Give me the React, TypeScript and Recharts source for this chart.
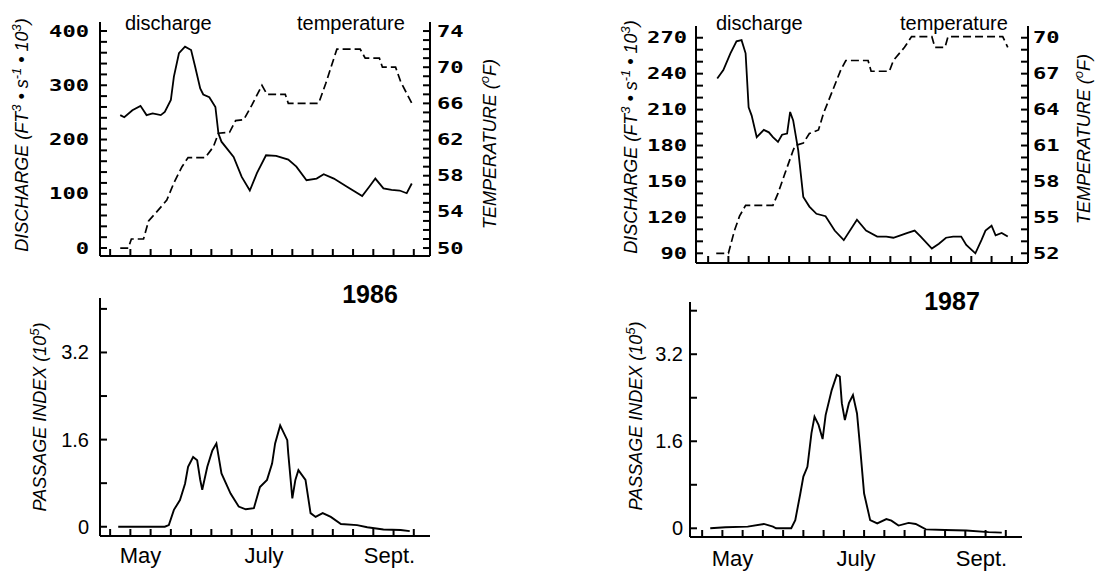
import React from 'react';
import { ComposedChart, Line, XAxis, YAxis, ReferenceLine } from 'recharts';

// day of year on the x axis
const dischargeDays1986 = [125, 127, 131, 135, 138, 141, 145, 147, 150, 151.5, 154, 157, 160, 162, 164.5, 166, 169, 172, 173.5, 175, 181, 185, 189, 192.5, 197, 202, 208, 212, 217, 222, 225.5, 230.5, 237, 244.5, 248, 251, 255, 259, 263, 266.5, 269];
const discharge1986 = [245, 241, 254, 262, 245, 248, 245, 251, 273, 316, 359, 371, 365, 334, 294, 283, 278, 260, 211, 196, 168, 131, 106, 138, 171, 170, 163, 150, 125, 128, 136, 128, 113, 96, 113, 128, 110, 107, 106, 101, 119];

const tempDays1986 = [125, 129, 130.5, 136.5, 139, 143, 148, 151.5, 155.5, 158.5, 167, 171, 173.5, 179, 182, 186, 190, 195, 197.5, 206.5, 208, 223, 226.5, 232, 243.5, 246, 253, 254.5, 261, 263.5, 269.5];
const temp1986 = [50, 50, 51, 51, 53, 54, 55.3, 57.2, 59, 60, 60, 61.2, 62.7, 62.8, 64.1, 64.2, 65.8, 68, 67, 67, 66, 66, 68.2, 72, 72, 71, 71, 70, 70, 68.4, 65.8];

const dischargeDays1987 = [124.5, 127.5, 131, 134, 136.5, 138.5, 140, 141.5, 144, 147.5, 150, 152, 154.5, 156.5, 159, 160.5, 162, 164.5, 167, 170, 173.5, 178, 182.5, 187, 193.5, 198, 203.5, 208, 211.5, 215, 218.5, 222, 225, 230.5, 234, 237.5, 241, 245, 247.5, 252, 255, 257, 260, 262, 265, 268];
const discharge1987 = [236, 243, 257, 267, 268, 257, 212, 205, 187, 193, 191, 187, 183, 189, 190, 208, 201, 176, 137, 129, 123, 121, 109, 101, 118, 109, 104, 104, 103, 105, 107, 109, 104, 94, 98, 103, 104, 104, 97, 90, 101, 109, 113, 105, 107, 104];

const tempDays1987 = [124, 130, 133, 135.5, 138.5, 152, 154.5, 158, 162, 163, 167, 170, 174.5, 177, 181.5, 185.5, 188, 199, 200.5, 209.5, 211.5, 217, 220.5, 230.5, 232, 237, 238.5, 265.5, 268];
const temp1987 = [52, 52, 53.9, 55.1, 56, 56, 57, 58.7, 60.6, 61, 61.2, 62, 62.3, 63.7, 65.6, 67.3, 68.1, 68.1, 67.2, 67.2, 68.1, 69.2, 70.1, 70.1, 69.2, 69.2, 70.1, 70.1, 69.2];

const passageDays1986 = [124, 147, 149, 151.5, 154.5, 157, 158.5, 161, 163, 164.5, 165.5, 168, 170.5, 172.5, 175, 179.5, 183.5, 187, 191, 194, 197.5, 200, 201.5, 204, 207.5, 208, 210, 211.5, 213, 216.5, 219, 221.5, 225, 229, 234, 242, 247, 255, 263.5, 268];
const passage1986 = [0, 0, 0.03, 0.31, 0.49, 0.79, 1.1, 1.28, 1.22, 0.86, 0.68, 1.1, 1.4, 1.53, 0.98, 0.61, 0.37, 0.32, 0.34, 0.73, 0.86, 1.16, 1.53, 1.86, 1.59, 1.34, 0.52, 0.86, 1.04, 0.86, 0.25, 0.18, 0.25, 0.18, 0.05, 0.03, -0.01, -0.05, -0.06, -0.08];

const passageDays1987 = [124, 131.5, 142.5, 150.5, 155, 156.5, 164, 166, 168.5, 170, 172, 174, 175.5, 177.5, 179.5, 181, 184, 186.5, 188, 189, 190.5, 192.5, 194.5, 196.5, 198, 200, 203, 206.5, 211, 213.5, 217, 222, 225.5, 230.5, 240, 250.5, 261.5, 268];
const passage1987 = [0, 0.02, 0.03, 0.08, 0.03, 0, 0, 0.15, 0.64, 0.95, 1.13, 1.75, 2.05, 1.9, 1.64, 2.08, 2.54, 2.82, 2.79, 2.3, 1.99, 2.3, 2.45, 2.11, 1.5, 0.64, 0.15, 0.09, 0.17, 0.14, 0.05, 0.1, 0.08, -0.02, -0.03, -0.04, -0.07, -0.08];

// axis ticks
const dayTicks = [120, 130, 140, 150, 160, 170, 180, 190, 200, 210, 220, 230, 240, 250, 260, 270];
const monthTicks = [135, 196, 258];
const monthNames = ['May', 'July', 'Sept.'];

const dischargeTicks1986 = [0, 20, 40, 60, 80, 100, 120, 140, 160, 180, 200, 220, 240, 260, 280, 300, 320, 340, 360, 380, 400];
const dischargeLabels1986 = [0, 100, 200, 300, 400];
const tempTicks1986 = [50, 51, 52, 53, 54, 55, 56, 57, 58, 59, 60, 61, 62, 63, 64, 65, 66, 67, 68, 69, 70, 71, 72, 73, 74];
const tempLabels1986 = [50, 54, 58, 62, 66, 70, 74];

const dischargeTicks1987 = [90, 100, 110, 120, 130, 140, 150, 160, 170, 180, 190, 200, 210, 220, 230, 240, 250, 260, 270];
const dischargeLabels1987 = [90, 120, 150, 180, 210, 240, 270];
const tempTicks1987 = [52, 53, 54, 55, 56, 57, 58, 59, 60, 61, 62, 63, 64, 65, 66, 67, 68, 69, 70];
const tempLabels1987 = [52, 55, 58, 61, 64, 67, 70];

const passageTicks = [0, 0.8, 1.6, 2.4, 3.2, 4.0];
const passageLabels = [0, 1.6, 3.2];

const zip = (days: number[], vals: number[]) => days.map((d, i) => ({ day: d, v: vals[i] }));

const SANS = '"Liberation Sans", Arial, sans-serif';
const MONO = '"DejaVu Sans Mono", monospace';
const AXIS = { stroke: '#000', strokeWidth: 2 };
const TICKLINE = { stroke: '#000', strokeWidth: 2 };

const has = (list: number[], v: number) => list.some((l) => Math.abs(l - v) < 1e-6);

// ticks point inward: tickSize -7 and tickMargin 7 put the label anchor back on the axis line
const YTick = (props: any) => {
  const { x, y, payload, labels, side, gap, mono } = props;
  const v = payload.value;
  if (!has(labels, v)) return <g />;
  const s = String(v);
  return (
    <text
      x={side === 'left' ? x - gap : x + gap}
      y={y}
      textAnchor={side === 'left' ? 'end' : 'start'}
      dominantBaseline="central"
      fontFamily={mono ? MONO : SANS}
      fontWeight={mono ? 'bold' : 'normal'}
      fontSize={mono ? 16 : 20}
      textLength={mono ? s.length * 13.3 : undefined}
      lengthAdjust={mono ? 'spacingAndGlyphs' : undefined}
      fill="#000"
    >
      {s}
    </text>
  );
};

const AxisTitle = ({ cx, cy, children }: any) => (
  <text
    transform={`translate(${cx},${cy}) rotate(-90)`}
    y={6.5}
    textAnchor="middle"
    fontFamily={SANS}
    fontStyle="italic"
    fontSize={18}
    fill="#000"
  >
    {children}
  </text>
);

const DischargeTitle = ({ cx, cy }: any) => (
  <AxisTitle cx={cx} cy={cy}>
    DISCHARGE (FT<tspan dy={-7} fontSize={13}>3</tspan>
    <tspan dy={7}> • s</tspan>
    <tspan dy={-7} fontSize={13}>-1</tspan>
    <tspan dy={7}> • 10</tspan>
    <tspan dy={-7} fontSize={13}>3</tspan>
    <tspan dy={7}>)</tspan>
  </AxisTitle>
);

const TempTitle = ({ cx, cy }: any) => (
  <AxisTitle cx={cx} cy={cy}>
    TEMPERATURE (<tspan dy={-7} fontSize={13}>o</tspan>
    <tspan dy={7}>F)</tspan>
  </AxisTitle>
);

const PassageTitle = ({ cx, cy }: any) => (
  <AxisTitle cx={cx} cy={cy}>
    PASSAGE INDEX (10<tspan dy={-7} fontSize={13}>5</tspan>
    <tspan dy={7}>)</tspan>
  </AxisTitle>
);

const xAxisProps = {
  dataKey: 'day',
  type: 'number' as const,
  allowDataOverflow: true,
  ticks: dayTicks,
  interval: 0,
  tickSize: -7,
  tickMargin: 7,
  tickLine: TICKLINE,
  axisLine: AXIS,
  tick: () => <g />,
};

const yAxisProps = {
  type: 'number' as const,
  allowDataOverflow: true,
  interval: 0,
  tickSize: -7,
  tickMargin: 7,
  tickLine: TICKLINE,
  axisLine: AXIS,
};

const monthLines = (offset: number) =>
  monthTicks.map((m, i) => (
    <ReferenceLine
      key={m}
      x={m}
      stroke="none"
      label={{ value: monthNames[i], position: 'bottom', offset, fontSize: 22, fontFamily: SANS, fill: '#000' }}
    />
  ));

const App = () => {
  return (
    <div style={{ position: 'absolute', left: 0, top: 0, width: 1095, height: 575, background: '#fff' }}>
      {/* 1986 discharge / temperature */}
      <div style={{ position: 'absolute', left: 0, top: 0 }}>
        <ComposedChart width={520} height={280} margin={{ top: 22, right: 0, bottom: 0, left: 0 }}>
          <XAxis {...xAxisProps} domain={[115, 278]} height={24} />
          <YAxis {...yAxisProps} yAxisId="q" domain={[-14.7, 416.6]} ticks={dischargeTicks1986} width={100}
            tick={(p: any) => <YTick {...p} labels={dischargeLabels1986} side="left" gap={11} mono />} />
          <YAxis {...yAxisProps} yAxisId="t" orientation="right" domain={[49.12, 75]} ticks={tempTicks1986} width={90}
            tick={(p: any) => <YTick {...p} labels={tempLabels1986} side="right" gap={7} mono />} />
          <Line yAxisId="q" data={zip(dischargeDays1986, discharge1986)} dataKey="v" type="linear" stroke="#000"
            strokeWidth={1.8} dot={false} isAnimationActive={false} />
          <Line yAxisId="t" data={zip(tempDays1986, temp1986)} dataKey="v" type="linear" stroke="#000"
            strokeWidth={1.7} strokeDasharray="8 4" dot={false} isAnimationActive={false} />
        </ComposedChart>
      </div>

      {/* 1987 discharge / temperature */}
      <div style={{ position: 'absolute', left: 520, top: 0 }}>
        <ComposedChart width={575} height={280} margin={{ top: 26, right: 0, bottom: 0, left: 0 }}>
          <XAxis {...xAxisProps} domain={[114, 278]} height={17} />
          <YAxis {...yAxisProps} yAxisId="q" domain={[81.9, 279.8]} ticks={dischargeTicks1987} width={176}
            tick={(p: any) => <YTick {...p} labels={dischargeLabels1987} side="left" gap={9} mono />} />
          <YAxis {...yAxisProps} yAxisId="t" orientation="right" domain={[51.19, 70.98]} ticks={tempTicks1987} width={67}
            tick={(p: any) => <YTick {...p} labels={tempLabels1987} side="right" gap={5} mono />} />
          <Line yAxisId="q" data={zip(dischargeDays1987, discharge1987)} dataKey="v" type="linear" stroke="#000"
            strokeWidth={1.8} dot={false} isAnimationActive={false} />
          <Line yAxisId="t" data={zip(tempDays1987, temp1987)} dataKey="v" type="linear" stroke="#000"
            strokeWidth={1.7} strokeDasharray="8 4" dot={false} isAnimationActive={false} />
        </ComposedChart>
      </div>

      {/* 1986 passage index */}
      <div style={{ position: 'absolute', left: 0, top: 280 }}>
        <ComposedChart width={520} height={295} margin={{ top: 18, right: 90, bottom: 0, left: 0 }}>
          <XAxis {...xAxisProps} domain={[115, 278]} height={39} />
          <YAxis {...yAxisProps} domain={[-0.17, 4.2]} ticks={passageTicks} width={100}
            tick={(p: any) => <YTick {...p} labels={passageLabels} side="left" gap={11} />} />
          {monthLines(11)}
          <Line data={zip(passageDays1986, passage1986)} dataKey="v" type="linear" stroke="#000"
            strokeWidth={1.9} dot={false} isAnimationActive={false} />
        </ComposedChart>
      </div>

      {/* 1987 passage index */}
      <div style={{ position: 'absolute', left: 520, top: 280 }}>
        <ComposedChart width={575} height={295} margin={{ top: 22, right: 73, bottom: 0, left: 0 }}>
          <XAxis {...xAxisProps} domain={[114, 278]} height={38} />
          <YAxis {...yAxisProps} domain={[-0.16, 4.16]} ticks={passageTicks} width={170}
            tick={(p: any) => <YTick {...p} labels={passageLabels} side="left" gap={7} />} />
          {monthLines(13)}
          <Line data={zip(passageDays1987, passage1987)} dataKey="v" type="linear" stroke="#000"
            strokeWidth={1.9} dot={false} isAnimationActive={false} />
        </ComposedChart>
      </div>

      {/* titles */}
      <svg width={1095} height={575} style={{ position: 'absolute', left: 0, top: 0, pointerEvents: 'none' }}>
        <text x={125} y={30} fontFamily={SANS} fontSize={20} fill="#000">discharge</text>
        <text x={297} y={30} fontFamily={SANS} fontSize={20} fill="#000">temperature</text>
        <text x={716} y={30} fontFamily={SANS} fontSize={20} fill="#000">discharge</text>
        <text x={900} y={30} fontFamily={SANS} fontSize={20} fill="#000">temperature</text>
        <text x={370} y={303} textAnchor="middle" fontFamily={SANS} fontWeight="bold" fontSize={25} fill="#000">1986</text>
        <text x={952} y={310} textAnchor="middle" fontFamily={SANS} fontWeight="bold" fontSize={25} fill="#000">1987</text>
        <DischargeTitle cx={21} cy={135} />
        <TempTitle cx={489} cy={144} />
        <DischargeTitle cx={630} cy={137} />
        <TempTitle cx={1083} cy={139} />
        <PassageTitle cx={39} cy={417} />
        <PassageTitle cx={635} cy={416} />
      </svg>
    </div>
  );
};

export default App;
